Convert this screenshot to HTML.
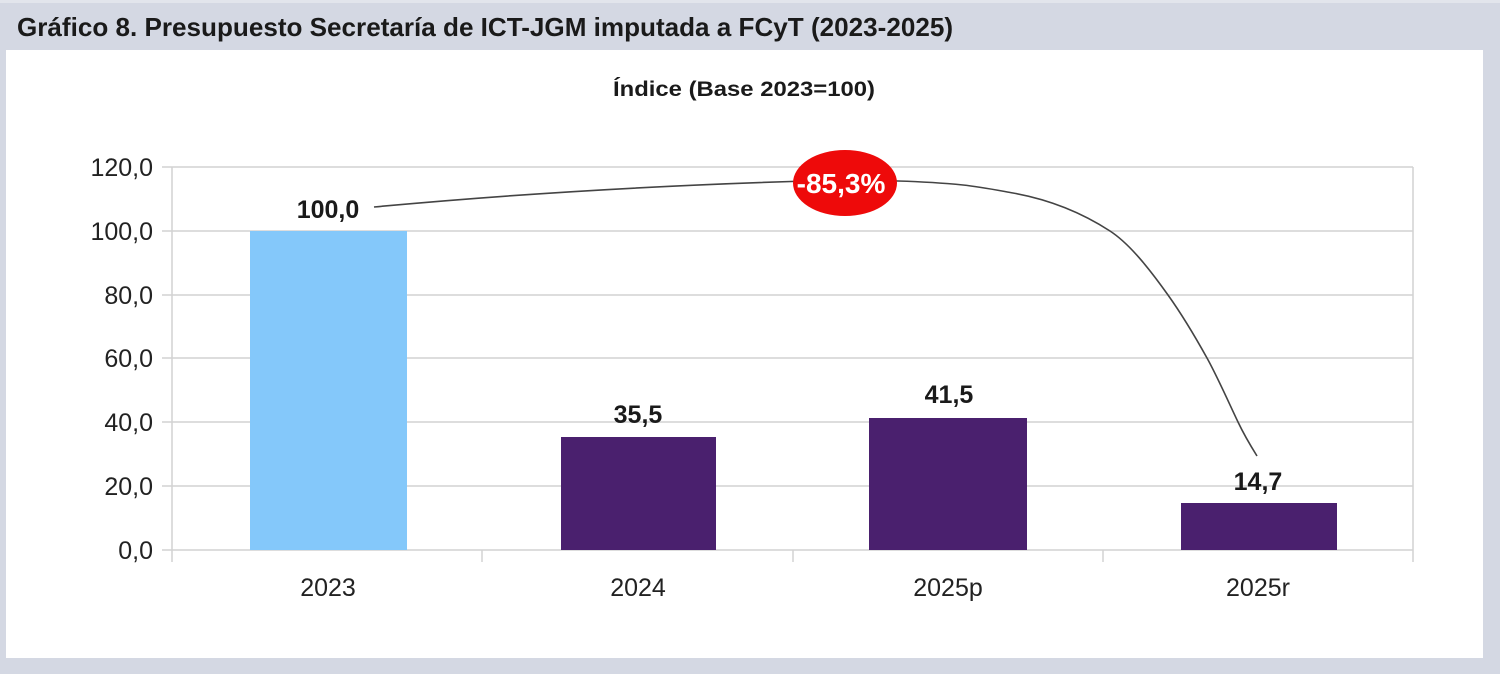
<!DOCTYPE html>
<html>
<head>
<meta charset="utf-8">
<style>
html,body{margin:0;padding:0;background:#d4d8e3;}
svg{display:block;}
</style>
</head>
<body>
<svg width="1500" height="674" viewBox="0 0 1500 674" xmlns="http://www.w3.org/2000/svg">
  <rect x="0" y="0" width="1500" height="674" fill="#d4d8e3"/>
  <rect x="0" y="0" width="1500" height="3" fill="#e2e5ec"/>
  <!-- title -->
  <text x="17" y="36" font-family="Liberation Sans, sans-serif" font-weight="bold" font-size="26" fill="#1a1a1a" textLength="936" lengthAdjust="spacingAndGlyphs">Gráfico 8. Presupuesto Secretaría de ICT-JGM imputada a FCyT (2023-2025)</text>
  <!-- white panel -->
  <rect x="6" y="50" width="1477" height="608" fill="#ffffff"/>
  <!-- subtitle -->
  <text x="613" y="96" font-family="Liberation Sans, sans-serif" font-weight="bold" font-size="21" fill="#1a1a1a" textLength="262" lengthAdjust="spacingAndGlyphs">Índice (Base 2023=100)</text>

  <!-- gridlines -->
  <g stroke="#d2d2d2" stroke-width="1.5">
    <line x1="162" y1="167" x2="1413" y2="167"/>
    <line x1="162" y1="231" x2="1413" y2="231"/>
    <line x1="162" y1="295" x2="1413" y2="295"/>
    <line x1="162" y1="358" x2="1413" y2="358"/>
    <line x1="162" y1="422" x2="1413" y2="422"/>
    <line x1="162" y1="486" x2="1413" y2="486"/>
    <line x1="162" y1="550" x2="1413" y2="550"/>
    <line x1="172" y1="167" x2="172" y2="562"/>
    <line x1="1413" y1="167" x2="1413" y2="562"/>
    <line x1="482" y1="550" x2="482" y2="562"/>
    <line x1="793" y1="550" x2="793" y2="562"/>
    <line x1="1103" y1="550" x2="1103" y2="562"/>
  </g>

  <!-- bars -->
  <rect x="250" y="231" width="157" height="319" fill="#84c8fa"/>
  <rect x="561" y="437" width="155" height="113" fill="#4a206e"/>
  <rect x="869" y="418" width="158" height="132" fill="#4a206e"/>
  <rect x="1181" y="503" width="156" height="47" fill="#4a206e"/>

  <!-- y labels -->
  <g font-family="Liberation Sans, sans-serif" font-size="25" fill="#222" text-anchor="end">
    <text x="153" y="176">120,0</text>
    <text x="153" y="240">100,0</text>
    <text x="153" y="304">80,0</text>
    <text x="153" y="367">60,0</text>
    <text x="153" y="431">40,0</text>
    <text x="153" y="495">20,0</text>
    <text x="153" y="559">0,0</text>
  </g>

  <!-- x labels -->
  <g font-family="Liberation Sans, sans-serif" font-size="25" fill="#222" text-anchor="middle">
    <text x="328" y="596">2023</text>
    <text x="638" y="596">2024</text>
    <text x="948" y="596">2025p</text>
    <text x="1258" y="596">2025r</text>
  </g>

  <!-- value labels -->
  <g font-family="Liberation Sans, sans-serif" font-size="25" font-weight="bold" fill="#1a1a1a" text-anchor="middle">
    <text x="328" y="218">100,0</text>
    <text x="638" y="423">35,5</text>
    <text x="949" y="403">41,5</text>
    <text x="1258" y="490">14,7</text>
  </g>

  <!-- connector curve -->
  <path d="M374,207 Q600,186 845,180 L898,181" fill="none" stroke="#444" stroke-width="1.6"/>
  <path d="M898,181 C919.7,181.65 941.3,182.8 963,185 C979.7,186.7 996.3,190 1013,193 C1045.3,198.8 1077.7,210 1110,231 C1129.3,243.6 1148.7,267.9 1168,295 C1181,313.2 1194,334.6 1207,358 C1217.3,376.6 1227.7,400.3 1238,422 C1244.3,435.3 1250.7,445.9 1257,456" fill="none" stroke="#444" stroke-width="1.6" stroke-linejoin="round"/>

  <!-- red ellipse -->
  <ellipse cx="845" cy="183" rx="52" ry="33" fill="#ee0a0a"/>
  <text x="841" y="193" font-family="Liberation Sans, sans-serif" font-size="28" font-weight="bold" fill="#ffffff" text-anchor="middle">-85,3%</text>
</svg>
</body>
</html>
